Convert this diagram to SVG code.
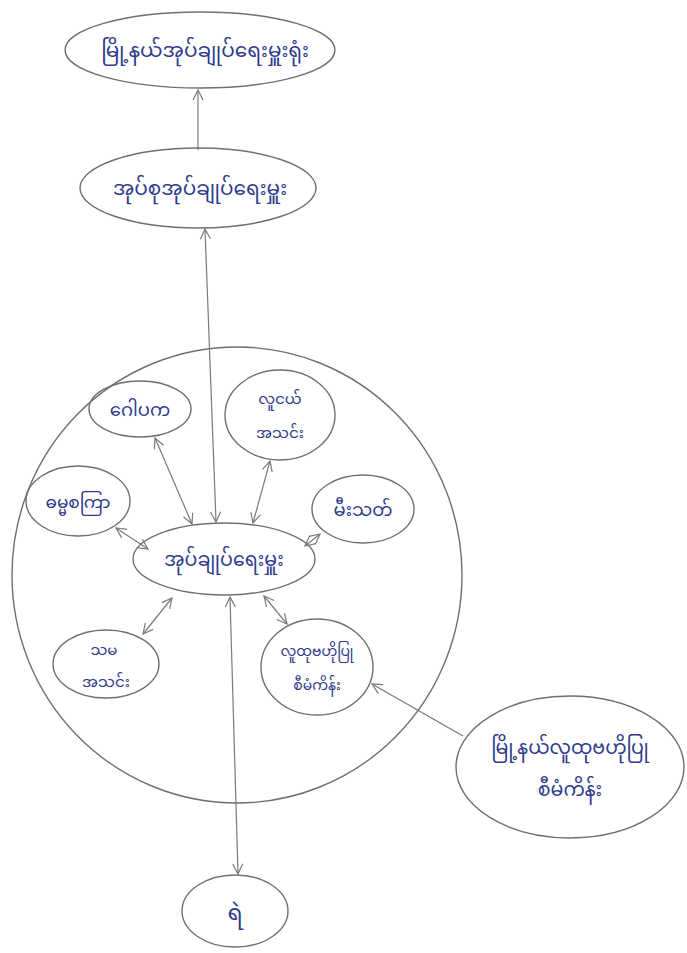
<svg xmlns="http://www.w3.org/2000/svg" width="687" height="953" viewBox="0 0 687 953">
<defs>
<marker id="ah" viewBox="0 0 12 12" refX="11" refY="6" markerWidth="12" markerHeight="12" markerUnits="userSpaceOnUse" orient="auto-start-reverse">
<path d="M1,1 L11,6 L1,11" fill="none" stroke="#7a7a7a" stroke-width="1.2"/>
</marker>
<style>
.n{fill:none;stroke:#6f6f6f;stroke-width:1.4}
.t{font-family:"Noto Sans Myanmar","Padauk","Myanmar Text","Noto Sans",sans-serif;fill:#2e3a8c;text-anchor:middle}
.c{stroke:#7a7a7a;stroke-width:1.2;fill:none}
.b{marker-start:url(#ah);marker-end:url(#ah)}
.e{marker-end:url(#ah)}
</style>
</defs>
<rect width="687" height="953" fill="#ffffff"/>
<g id="group-circle"><ellipse class="n" cx="237" cy="575" rx="225" ry="228"/></g>
<g id="connectors">
<line class="c e" x1="198" y1="150" x2="198" y2="90"/>
<line class="c b" x1="205" y1="229" x2="216" y2="522"/>
<line class="c b" x1="230" y1="597" x2="238" y2="874"/>
<line class="c b" x1="155" y1="438" x2="192" y2="524"/>
<line class="c b" x1="270" y1="461" x2="253" y2="523"/>
<line class="c b" x1="116" y1="528" x2="148" y2="549"/>
<line class="c b" x1="320" y1="534" x2="305" y2="546"/>
<line class="c b" x1="143" y1="634" x2="172" y2="598"/>
<line class="c b" x1="287" y1="624" x2="264" y2="596"/>
<line class="c e" x1="463" y1="736" x2="372" y2="684"/>
</g>
<g id="township-office"><ellipse class="n" cx="200" cy="50" rx="135" ry="38"/><text class="t" x="205" y="57" font-size="20">မြို့နယ်အုပ်ချုပ်ရေးမှူးရုံး</text></g>
<g id="village-tract-admin"><ellipse class="n" cx="198" cy="188" rx="118" ry="40"/><text class="t" x="200" y="195" font-size="20">အုပ်စုအုပ်ချုပ်ရေးမှူး</text></g>
<g id="gopaka"><ellipse class="n" cx="140" cy="409" rx="51" ry="28"/><text class="t" x="140" y="416" font-size="18">ဂေါပက</text></g>
<g id="youth"><ellipse class="n" cx="280" cy="415" rx="55" ry="45"/><text class="t" x="280" y="404" font-size="15">လူငယ်</text><text class="t" x="280" y="438" font-size="15">အသင်း</text></g>
<g id="dhammacakka"><ellipse class="n" cx="78" cy="501" rx="52" ry="35"/><text class="t" x="78" y="508" font-size="17">ဓမ္မစကြာ</text></g>
<g id="fire-brigade"><ellipse class="n" cx="363" cy="509" rx="51" ry="34"/><text class="t" x="363" y="516" font-size="18">မီးသတ်</text></g>
<g id="administrator"><ellipse class="n" cx="224" cy="559" rx="91" ry="36"/><text class="t" x="224" y="566" font-size="19">အုပ်ချုပ်ရေးမှူး</text></g>
<g id="women-assoc"><ellipse class="n" cx="106" cy="664" rx="53" ry="34"/><text class="t" x="104" y="655" font-size="15">သမ</text><text class="t" x="106" y="687" font-size="15">အသင်း</text></g>
<g id="community-project"><ellipse class="n" cx="317" cy="667" rx="56" ry="48"/><text class="t" x="317" y="656" font-size="14">လူထုဗဟိုပြု</text><text class="t" x="317" y="690" font-size="14">စီမံကိန်း</text></g>
<g id="township-community-project"><ellipse class="n" cx="570" cy="767" rx="114" ry="71"/><text class="t" x="570" y="754" font-size="19">မြို့နယ်လူထုဗဟိုပြု</text><text class="t" x="570" y="796" font-size="19">စီမံကိန်း</text></g>
<g id="police"><ellipse class="n" cx="235" cy="911" rx="53" ry="36"/><text class="t" x="235" y="920" font-size="22">ရဲ</text></g>
</svg>
